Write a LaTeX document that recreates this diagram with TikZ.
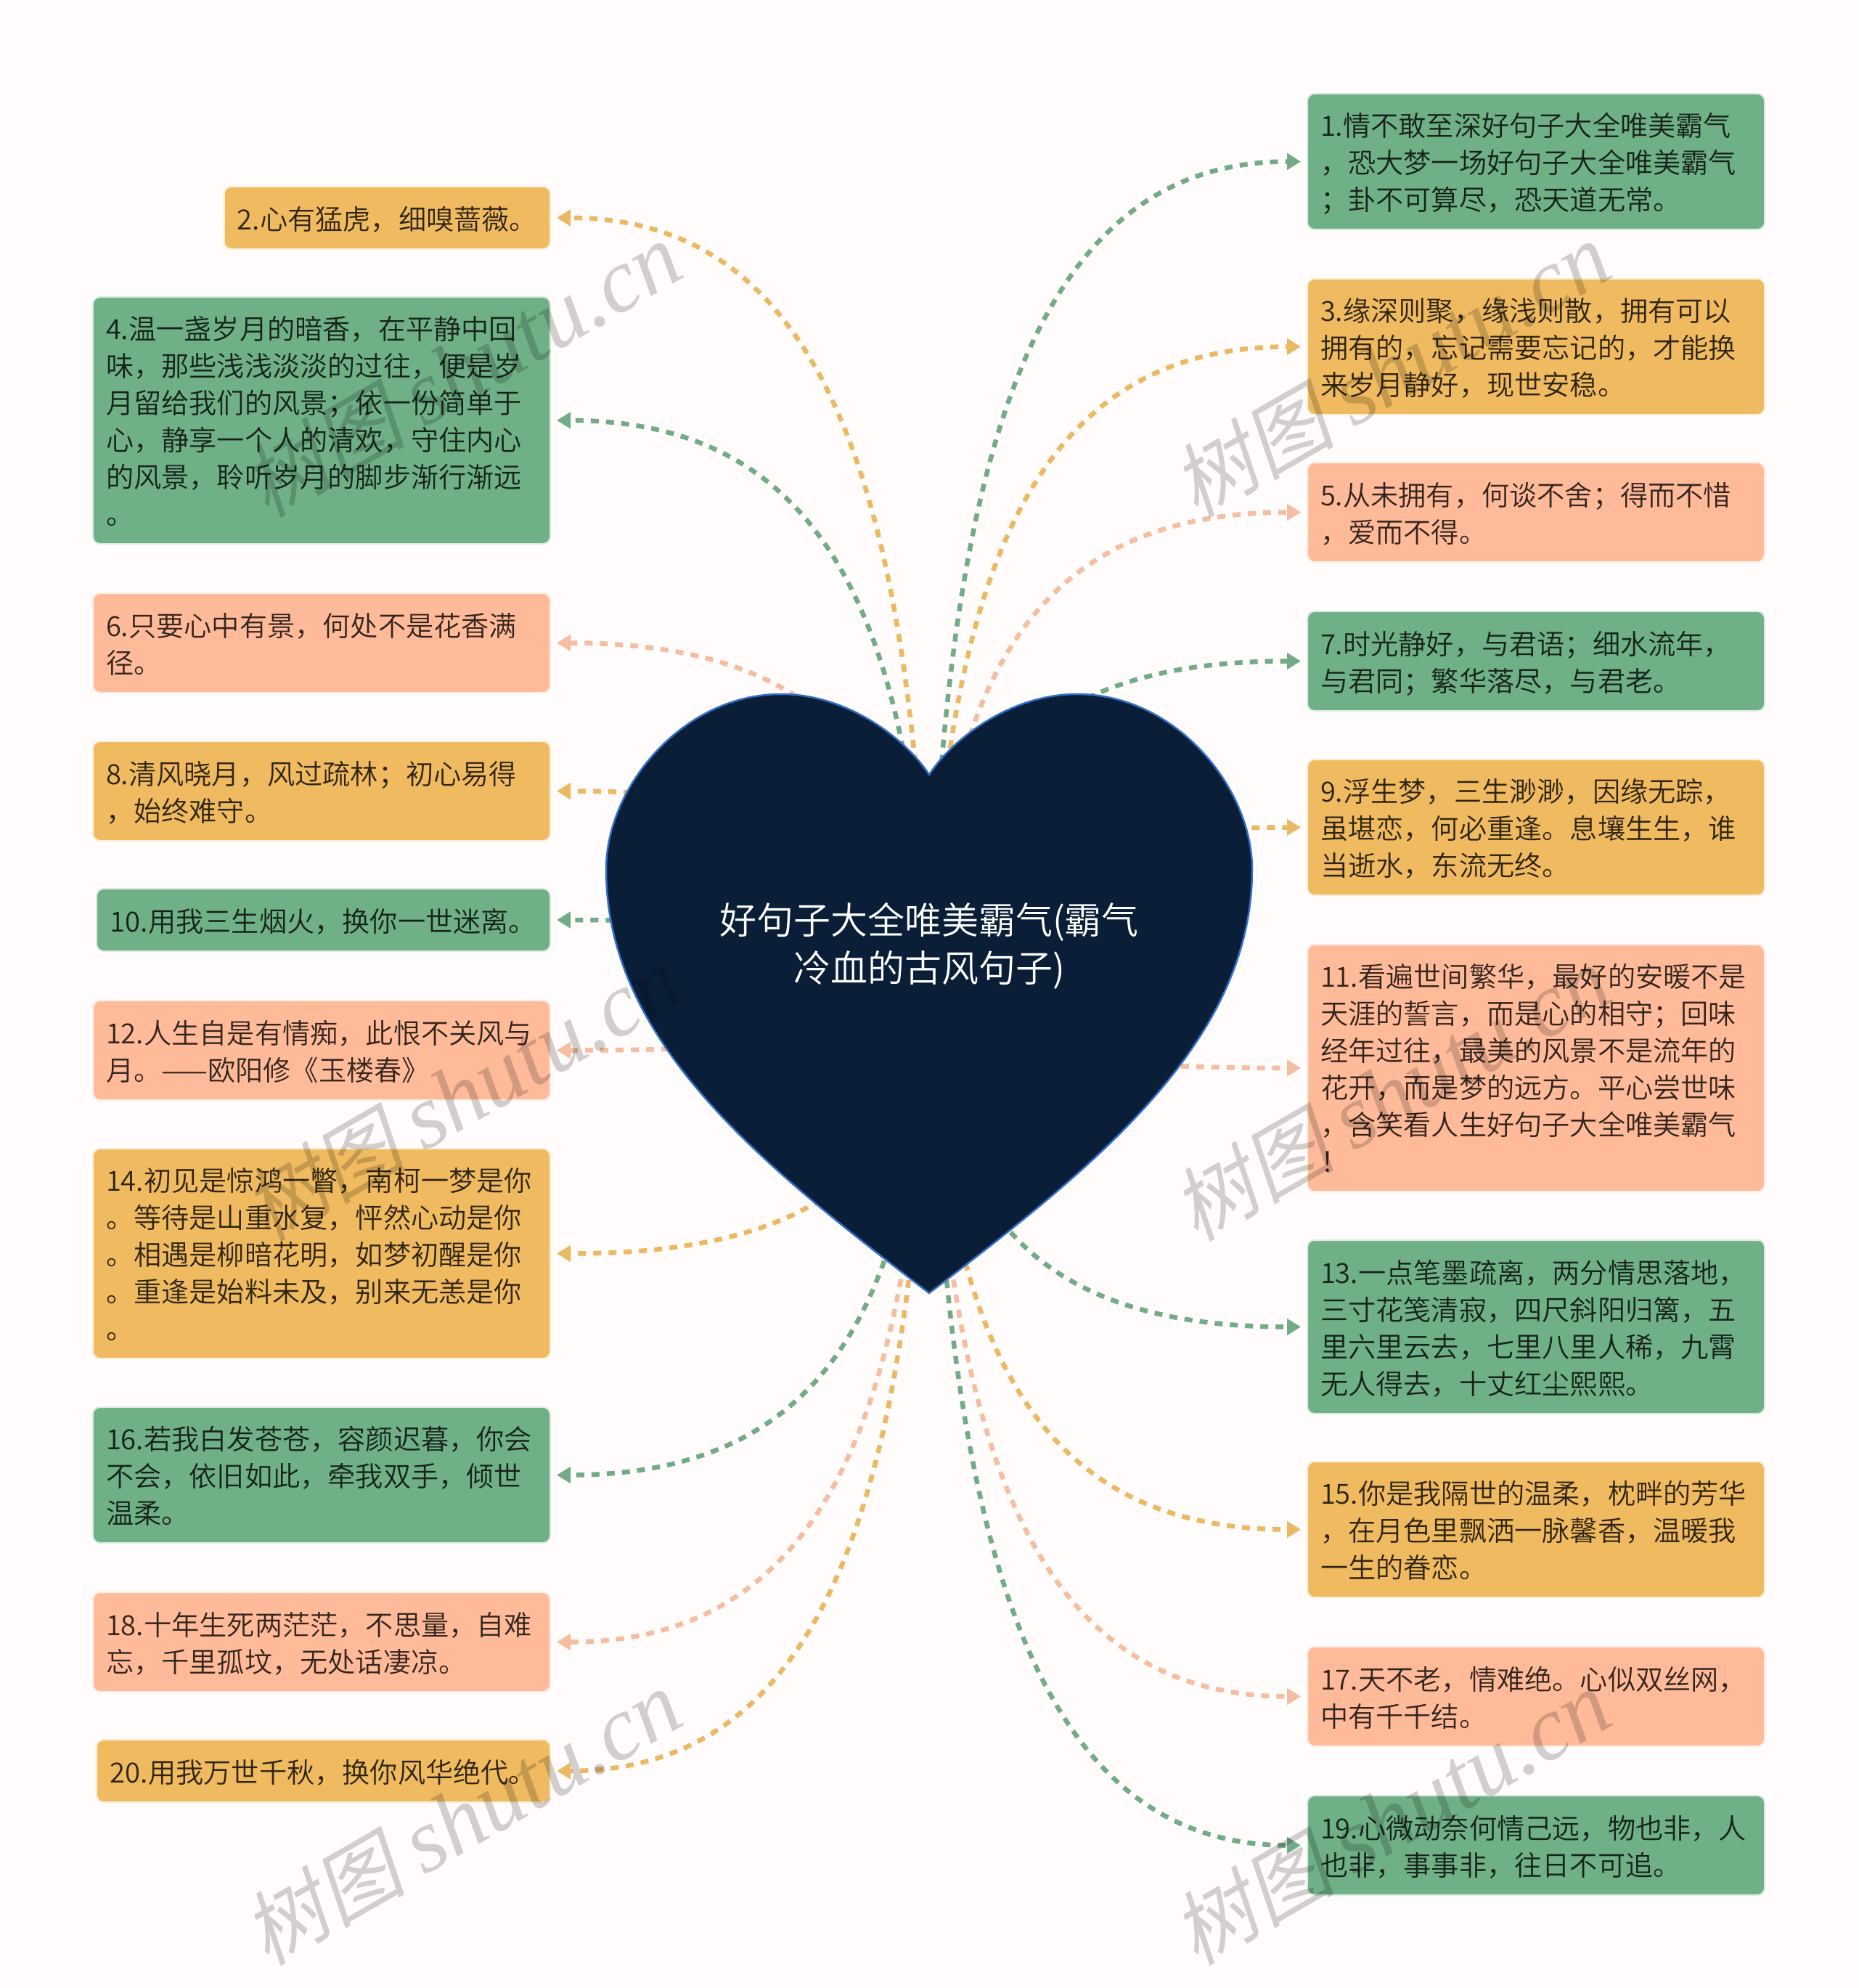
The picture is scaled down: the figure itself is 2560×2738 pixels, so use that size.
\documentclass[tikz,border=0pt]{standalone}
\usepackage{fontspec}
\setmainfont{Noto Sans CJK SC DemiLight}
\newfontfamily\markcjk[FakeSlant=.2]{Noto Sans CJK SC}
\newfontfamily\marklatin{Liberation Serif}
\usetikzlibrary{arrows.meta,calc}
\definecolor{pagebg}{HTML}{FFFCFB}
\definecolor{boxgreen}{HTML}{6FB086}
\definecolor{boxorange}{HTML}{F0BB60}
\definecolor{boxpeach}{HTML}{FFBB99}
\definecolor{linegreen}{HTML}{74AB87}
\definecolor{lineorange}{HTML}{EBB863}
\definecolor{linepeach}{HTML}{F5BDA1}
\definecolor{heartfill}{HTML}{0A1E38}
\definecolor{heartline}{HTML}{3270C8}
\tikzset{
  note/.style={fill=#1,draw=#1!25!white,line width=2pt,rounded corners=10pt,outer sep=0pt,
    inner xsep=18pt,inner ysep=0pt,align=left,text=black,text opacity=.8,
    font=\fontsize{38.2pt}{51pt}\selectfont,
    execute at begin node=\rule{0pt}{47.7pt},execute at end node=\strut},
  rightnote/.style={note=#1,anchor=north west,minimum width=630pt,text width=594pt},
  leftnote/.style={note=#1,anchor=north east,minimum width=630pt,text width=594pt},
  shortnote/.style={note=#1,anchor=north east},
  link/.style={draw=#1,line width=6.5pt,dash pattern=on 11pt off 10pt,shorten >=9pt,
    -{Triangle[length=19pt,width=22pt]}},
  watermark/.style={rotate=30,text=black,text opacity=.18,inner sep=0pt}
}
\begin{document}
\begin{tikzpicture}[x=1pt,y=-1pt]
  \fill[pagebg] (0,0) rectangle (2560,2738);
  \useasboundingbox (0,0) rectangle (2560,2738);
  \coordinate (hub) at (1280,1365);

  \node[rightnote=boxgreen,minimum height=187pt] (b1) at (1801,129) {1.情不敢至深好句子大全唯美霸气\\，恐大梦一场好句子大全唯美霸气\\；卦不可算尽，恐天道无常。};
  \node[rightnote=boxorange,minimum height=187pt] (b3) at (1801,384) {3.缘深则聚，缘浅则散，拥有可以\\拥有的，忘记需要忘记的，才能换\\来岁月静好，现世安稳。};
  \node[rightnote=boxpeach,minimum height=137pt] (b5) at (1801,637) {5.从未拥有，何谈不舍；得而不惜\\，爱而不得。};
  \node[rightnote=boxgreen,minimum height=137pt] (b7) at (1801,842) {7.时光静好，与君语；细水流年，\\与君同；繁华落尽，与君老。};
  \node[rightnote=boxorange,minimum height=187pt] (b9) at (1801,1046) {9.浮生梦，三生渺渺，因缘无踪，\\虽堪恋，何必重逢。息壤生生，谁\\当逝水，东流无终。};
  \node[rightnote=boxpeach,minimum height=340pt] (b11) at (1801,1301) {11.看遍世间繁华，最好的安暖不是\\天涯的誓言，而是心的相守；回味\\经年过往，最美的风景不是流年的\\花开，而是梦的远方。平心尝世味\\，含笑看人生好句子大全唯美霸气\\！};
  \node[rightnote=boxgreen,minimum height=239pt] (b13) at (1801,1708) {13.一点笔墨疏离，两分情思落地，\\三寸花笺清寂，四尺斜阳归篱，五\\里六里云去，七里八里人稀，九霄\\无人得去，十丈红尘熙熙。};
  \node[rightnote=boxorange,minimum height=187pt] (b15) at (1801,2013) {15.你是我隔世的温柔，枕畔的芳华\\，在月色里飘洒一脉馨香，温暖我\\一生的眷恋。};
  \node[rightnote=boxpeach,minimum height=137pt] (b17) at (1801,2268) {17.天不老，情难绝。心似双丝网，\\中有千千结。};
  \node[rightnote=boxgreen,minimum height=137pt] (b19) at (1801,2473) {19.心微动奈何情己远，物也非，人\\也非，事事非，往日不可追。};

  \node[shortnote=boxorange,minimum width=449pt,minimum height=86pt] (b2) at (758,257) {2.心有猛虎，细嗅蔷薇。};
  \node[leftnote=boxgreen,minimum height=340pt] (b4) at (758,409) {4.温一盏岁月的暗香，在平静中回\\味，那些浅浅淡淡的过往，便是岁\\月留给我们的风景；依一份简单于\\心，静享一个人的清欢，守住内心\\的风景，聆听岁月的脚步渐行渐远\\。};
  \node[leftnote=boxpeach,minimum height=137pt] (b6) at (758,817) {6.只要心中有景，何处不是花香满\\径。};
  \node[leftnote=boxorange,minimum height=137pt] (b8) at (758,1021) {8.清风晓月，风过疏林；初心易得\\，始终难守。};
  \node[shortnote=boxgreen,minimum width=625pt,minimum height=86pt] (b10) at (758,1224) {10.用我三生烟火，换你一世迷离。};
  \node[leftnote=boxpeach,minimum height=137pt] (b12) at (758,1378) {12.人生自是有情痴，此恨不关风与\\月。——欧阳修《玉楼春》};
  \node[leftnote=boxorange,minimum height=289pt] (b14) at (758,1582) {14.初见是惊鸿一瞥，南柯一梦是你\\。等待是山重水复，怦然心动是你\\。相遇是柳暗花明，如梦初醒是你\\。重逢是始料未及，别来无恙是你\\。};
  \node[leftnote=boxgreen,minimum height=187pt] (b16) at (758,1938) {16.若我白发苍苍，容颜迟暮，你会\\不会，依旧如此，牵我双手，倾世\\温柔。};
  \node[leftnote=boxpeach,minimum height=137pt] (b18) at (758,2193) {18.十年生死两茫茫，不思量，自难\\忘，千里孤坟，无处话凄凉。};
  \node[shortnote=boxorange,minimum width=625pt,minimum height=86pt] (b20) at (758,2396) {20.用我万世千秋，换你风华绝代。};

  \foreach \b/\c/\s in {b1/linegreen/west,b3/lineorange/west,b5/linepeach/west,b7/linegreen/west,b9/lineorange/west,b11/linepeach/west,b13/linegreen/west,b15/lineorange/west,b17/linepeach/west,b19/linegreen/west,b2/lineorange/east,b4/linegreen/east,b6/linepeach/east,b8/lineorange/east,b10/linegreen/east,b12/linepeach/east,b14/lineorange/east,b16/linegreen/east,b18/linepeach/east,b20/lineorange/east}
    \draw[link=\c] let \p1=($(\b.\s)-(hub)$) in (hub) .. controls ($(hub)+(.04*\x1,.62*\y1)$) and ($(hub)+(.25*\x1,\y1)$) .. (\b.\s);

  \draw[fill=heartfill,draw=heartline,line width=2.5pt,line join=round] (1280,1067)
    .. controls (1310,1020) and (1390,956) .. (1484,956)
    .. controls (1620,956) and (1725,1085) .. (1725,1197)
    .. controls (1725,1435) and (1510,1605) .. (1280,1781)
    .. controls (1050,1605) and (835,1435) .. (835,1197)
    .. controls (835,1085) and (940,956) .. (1076,956)
    .. controls (1170,956) and (1250,1020) .. cycle;
  \node[text=white,align=center,font=\fontsize{51pt}{66pt}\selectfont] (title) at (1280,1303) {好句子大全唯美霸气(霸气\\冷血的古风句子)};

  \foreach \x in {637,1917}
    \foreach \y in {510,1507,2504}
      \node[watermark] (wm-\x-\y) at (\x,\y) {{\markcjk\fontsize{112pt}{112pt}\selectfont 树图}\hspace{25pt}{\marklatin\itshape\fontsize{125pt}{125pt}\selectfont shutu.cn}};
\end{tikzpicture}
\end{document}
